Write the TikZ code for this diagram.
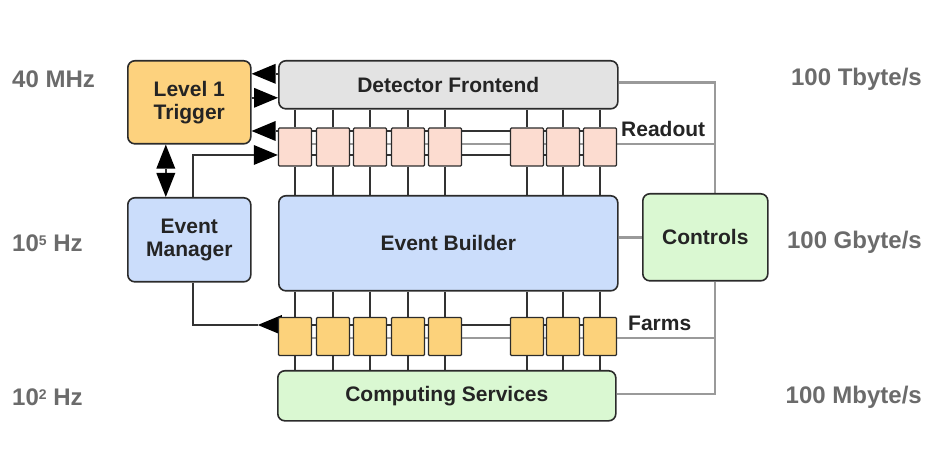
\documentclass[tikz,border=0pt]{standalone}
\usepackage{fontspec}
\setmainfont{Liberation Sans}
\usetikzlibrary{arrows.meta}

\definecolor{trigfill}{HTML}{FDD27E}
\definecolor{farmfill}{HTML}{FCD27B}
\definecolor{fefill}{HTML}{E3E3E3}
\definecolor{rofill}{HTML}{FCDCD0}
\definecolor{bluefill}{HTML}{CBDDFB}
\definecolor{greenfill}{HTML}{DAF8D2}
\definecolor{edge}{HTML}{2B2B2B}
\definecolor{wire}{HTML}{333333}
\definecolor{bus}{HTML}{9A9A9A}
\definecolor{ratetext}{HTML}{6B6B6B}
\definecolor{boxtext}{HTML}{242424}

\pgfdeclarelayer{bg}
\pgfsetlayers{bg,main}

\newcommand{\expo}[1]{\raisebox{6pt}{\fontsize{14}{14}\selectfont #1}}

\tikzset{
  block/.style={draw=edge, line width=1.6pt, rounded corners=7pt,
    anchor=north west, inner sep=0pt, align=center, text=boxtext,
    font=\fontsize{21}{24}\selectfont\bfseries},
  cell/.style={draw=edge, line width=1.4pt, rounded corners=1pt,
    minimum width=33pt, minimum height=38pt, inner sep=0pt},
  rocell/.style={cell, fill=rofill},
  farmcell/.style={cell, fill=farmfill},
  wireline/.style={draw=wire, line width=1.6pt},
  busline/.style={draw=bus, line width=2.6pt},
  arr/.style={wireline, -{Triangle[length=24pt, width=20pt, line width=0pt, fill=black]}},
  arrboth/.style={wireline, {Triangle[length=24pt, width=19pt, line width=0pt, fill=black]}-{Triangle[length=24pt, width=19pt, line width=0pt, fill=black]}},
  rate/.style={text=ratetext, font=\fontsize{24}{27}\selectfont\bfseries, inner sep=0pt},
  tag/.style={text=boxtext, font=\fontsize{21}{24}\selectfont\bfseries, inner sep=0pt, anchor=base west},
}

\begin{document}
\begin{tikzpicture}[x=1pt, y=-1pt]
\useasboundingbox (0,0) rectangle (932,470);

% main blocks
\node[block, fill=trigfill, minimum width=123pt, minimum height=83pt] (trig) at (127,60) {Level 1\\[-1pt]Trigger};
\node[block, fill=bluefill, minimum width=123pt, minimum height=84pt] (em) at (127,197) {Event\\[-1pt]Manager};
\node[block, fill=fefill, minimum width=339pt, minimum height=48pt] (fe) at (278,60) {Detector Frontend};
\node[block, fill=bluefill, minimum width=339pt, minimum height=95pt] (eb) at (278,195) {Event Builder};
\node[block, fill=greenfill, minimum width=338pt, minimum height=50pt] (cs) at (277,370) {Computing Services};
\node[block, fill=greenfill, minimum width=125pt, minimum height=87pt] (ctl) at (642,193) {Controls};

% readout and farm cells
\foreach \i/\x in {1/295,2/333,3/370,4/408,5/445,6/527,7/563,8/600} {
  \node[rocell] (r\i) at (\x,147) {};
  \node[farmcell] (f\i) at (\x,336.5) {};
}

% right-hand spine of the control network
\coordinate (sp) at (715,0);

% rate labels
\node[rate, anchor=west] (l1) at (12,79) {40 MHz};
\node[rate, anchor=west] (l2) at (12,243) {10\expo{5} Hz};
\node[rate, anchor=west] (l3) at (12,397) {10\expo{2} Hz};
\node[rate, anchor=east] (b1) at (922,79) {100 Tbyte/s};
\node[rate, anchor=east] (b2) at (922,242) {100 Gbyte/s};
\node[rate, anchor=east] (b3) at (922,397) {100 Mbyte/s};

% row labels
\node[tag] (rolabel) at (621,137) {Readout};
\node[tag] (farmlabel) at (628,331) {Farms};

\begin{pgfonlayer}{bg}
  % vertical data paths through the cells
  \foreach \i in {1,...,8} {
    \draw[wireline] (fe.south -| r\i) -- (r\i.north);
    \draw[wireline] (r\i.south) -- (eb.north -| r\i);
    \draw[wireline] (eb.south -| f\i) -- (f\i.north);
    \draw[wireline] (f\i.south) -- (cs.north -| f\i);
  }

  % trigger <-> frontend
  \draw[arr] ([yshift=11pt]fe.west) -- ([yshift=11pt]fe.west -| trig.east);
  \draw[arr] ([yshift=-13pt]fe.west -| trig.east) -- ([yshift=-13pt]fe.west);

  % readout buses
  \draw[arr] ([yshift=16pt]r8.east) -- ([yshift=16pt]r1.west -| trig.east);
  \draw[busline] ([yshift=3pt]r1.west) -- ([yshift=3pt]r8.east -| sp);
  \draw[wireline] ([yshift=-8pt]r1.west) -- ([yshift=-8pt]r8.east);
  \draw[arr] ([xshift=3.5pt]em.north) |- ([yshift=-8pt]r1.west);

  % trigger <-> event manager
  \draw[arrboth] ([xshift=-23.5pt]trig.south) -- ([xshift=-23.5pt]em.north);

  % farm buses
  \path ([yshift=11.5pt]f1.west) ++(-20,0) coordinate (fatip);
  \draw[wireline] ([yshift=11.5pt]f1.west) -- ([yshift=11.5pt]f8.east);
  \draw[arr] ([yshift=11.5pt]f1.west) -- (fatip);
  \draw[wireline] ([xshift=3.5pt]em.south) |- (fatip);
  \draw[busline] ([yshift=-1.5pt]f1.west) -- ([yshift=-1.5pt]f8.east -| sp);

  % control network
  \draw[busline] ([yshift=2pt]fe.east) -| (ctl.north -| sp);
  \draw[busline] (ctl.south -| sp) |- ([yshift=2pt]cs.east);
  \draw[busline] (ctl.west) -- (ctl.west -| eb.east);
\end{pgfonlayer}
\end{tikzpicture}
\end{document}
